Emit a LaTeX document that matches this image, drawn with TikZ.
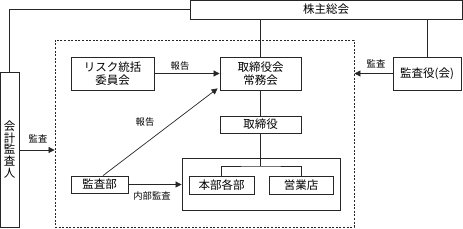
\documentclass[tikz,border=0pt]{standalone}
\usepackage{fontspec}
\setmainfont{Noto Sans CJK JP}
\usetikzlibrary{arrows.meta,calc}
\begin{document}
\begin{tikzpicture}[x=1pt,y=-1pt,
  box/.style={draw=black!85,line width=0.8pt,rectangle,inner sep=0pt,align=center,font=\fontsize{11.5}{13}\selectfont},
  lbl/.style={font=\fontsize{9.3}{10}\selectfont,inner sep=0pt},
  conn/.style={draw=black!85,line width=0.7pt},
  arr/.style={conn,-{Triangle[length=6pt,width=6pt]}}]
\useasboundingbox (0,0) rectangle (463,229);
\node[box,minimum width=272,minimum height=19] (gm) at (326,9.5) {株主総会};
\node[box,minimum width=19,minimum height=155,font=\fontsize{11.5}{11.8}\selectfont] (acct) at (9.5,149.5) {会\\計\\監\\査\\人};
\node[draw=black!85,line width=0.8pt,dash pattern=on 2pt off 1.6pt,minimum width=299,minimum height=187,inner sep=0pt] (org) at (204.5,133.5) {};
\node[box,minimum width=83,minimum height=33] (risk) at (112.5,73.5) {リスク統括\\委員会};
\node[box,minimum width=81,minimum height=33] (bod) at (260.5,73.5) {取締役会\\常務会};
\node[box,minimum width=68,minimum height=33] (aud) at (427,73.5) {監査役(会)};
\node[box,minimum width=81,minimum height=17] (dir) at (260.5,124.5) {取締役};
\node[box,minimum width=158,minimum height=52] (grp) at (261,184) {};
\node[box,minimum width=65,minimum height=18] (hq) at (221.5,185) {本部各部};
\node[box,minimum width=64,minimum height=18] (br) at (301,185) {営業店};
\node[box,minimum width=57,minimum height=17] (ia) at (99.5,184.5) {監査部};
\coordinate (j) at (260.5,166);
% connectors
\draw[conn] (gm.west) -| (acct.north);
\draw[conn] (bod.north |- gm.south) -- (bod.north);
\draw[conn] (aud.north |- gm.south) -- (aud.north);
\draw[conn] (bod.south) -- (dir.north);
\draw[conn] (dir.south) -- (j);
\draw[conn] (hq.north) |- (j) -| (br.north);
\draw[arr] (acct.east |- 0,150) -- (org.west |- 0,150);
\node[lbl] (l1) at (38,139) {監査};
\draw[arr] (risk.east) -- (bod.west);
\node[lbl] (l2) at (180,66) {報告};
\draw[arr] (aud.west) -- (aud.west -| org.east);
\node[lbl] (l3) at (376,64) {監査};
\draw[arr] (ia.east) -- (ia.east -| grp.west);
\node[lbl] (l4) at (152,196) {内部監査};
\draw[arr] (ia.north -| 103,0) -- ($(bod.south west)+(-2,-2)$);
\node[lbl] (l5) at (145,122) {報告};
\end{tikzpicture}
\end{document}
